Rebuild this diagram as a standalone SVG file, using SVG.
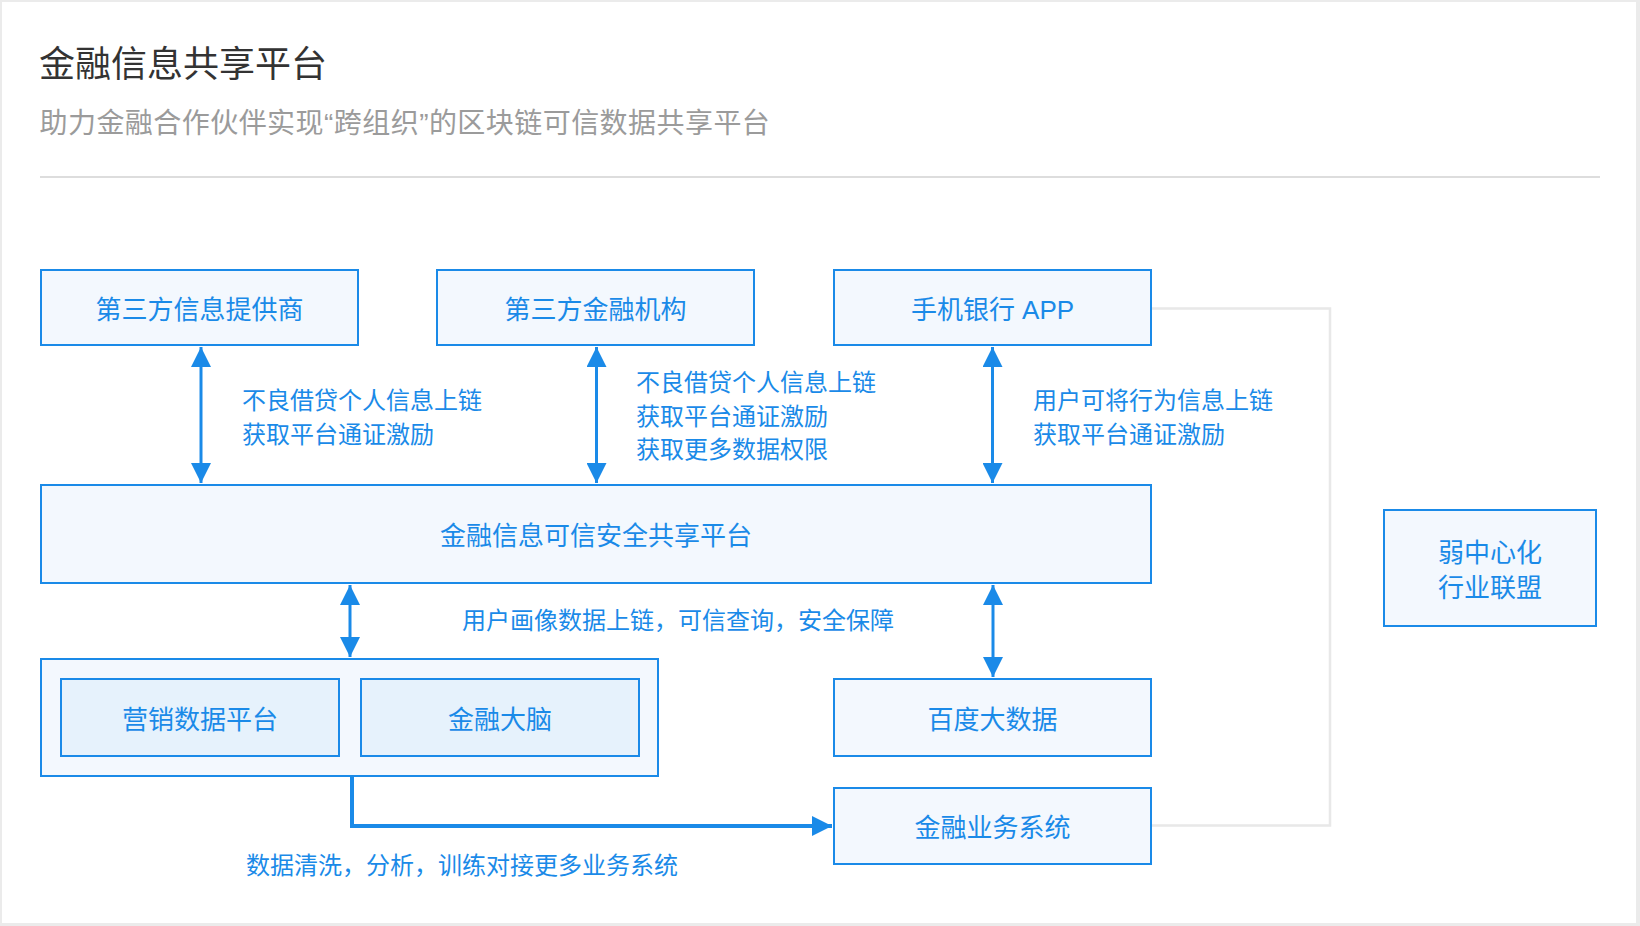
<svg xmlns="http://www.w3.org/2000/svg" width="1640" height="926" viewBox="0 0 1640 926">
<style>
text{font-family:"Liberation Sans","Noto Sans CJK SC",sans-serif}
.title{font-size:36px;fill:#333333}
.sub{font-size:28px;fill:#9b9b9b;letter-spacing:0.45px}
.box{fill:#f3f8fe;stroke:#1a8ae8;stroke-width:2}
.inner{fill:#e6f2fc;stroke:#1a8ae8;stroke-width:2}
.bl{font-size:26px;fill:#1a8ae8;text-anchor:middle}
.lab{font-size:24px;fill:#1a8ae8}
.arr{stroke:#1a8ae8;stroke-width:3;fill:none;marker-start:url(#ah);marker-end:url(#ah)}
.elbow{stroke:#1a8ae8;stroke-width:4;fill:none;marker-end:url(#ah)}
.gray{stroke:#e8e8e8;stroke-width:2.5;fill:none}
</style>
<defs>
<marker id="ah" markerUnits="userSpaceOnUse" markerWidth="20" markerHeight="20" viewBox="0 0 20 20" refX="20" refY="10" orient="auto-start-reverse">
<path d="M0,0 L20,10 L0,20 z" fill="#1a8ae8"/>
</marker>
</defs>
<rect x="0" y="0" width="1640" height="926" fill="#ebebeb"/>
<rect x="2" y="2" width="1634" height="921" fill="#ffffff"/>
<g id="header">
<text class="title" x="39" y="77">金融信息共享平台</text>
<text class="sub" x="39.5" y="133">助力金融合作伙伴实现“跨组织”的区块链可信数据共享平台</text>
<line x1="40" y1="177" x2="1600" y2="177" stroke="#dddddd" stroke-width="2"/>
</g>
<g id="connectors">
<polyline class="gray" points="1152,308.5 1330,308.5 1330,825.5 1152,825.5"/>
<line class="arr" x1="201" y1="347" x2="201" y2="483"/>
<line class="arr" x1="596.5" y1="347" x2="596.5" y2="483"/>
<line class="arr" x1="992.5" y1="347" x2="992.5" y2="483"/>
<line class="arr" x1="350" y1="585" x2="350" y2="657"/>
<line class="arr" x1="993" y1="585" x2="993" y2="677"/>
<path class="elbow" d="M352,777 V826 H832"/>
<text class="lab" x="242" y="409">不良借贷个人信息上链</text>
<text class="lab" x="242" y="443">获取平台通证激励</text>
<text class="lab" x="636" y="391">不良借贷个人信息上链</text>
<text class="lab" x="636" y="425">获取平台通证激励</text>
<text class="lab" x="636" y="458">获取更多数据权限</text>
<text class="lab" x="1033" y="409">用户可将行为信息上链</text>
<text class="lab" x="1033" y="443">获取平台通证激励</text>
<text class="lab" x="462" y="629">用户画像数据上链，可信查询，安全保障</text>
<text class="lab" x="246" y="874">数据清洗，分析，训练对接更多业务系统</text>
</g>
<g id="n-provider">
<rect class="box" x="41" y="270" width="317" height="75"/>
<text class="bl" x="199.5" y="318.5">第三方信息提供商</text>
</g>
<g id="n-institution">
<rect class="box" x="437" y="270" width="317" height="75"/>
<text class="bl" x="595.5" y="318.5">第三方金融机构</text>
</g>
<g id="n-app">
<rect class="box" x="834" y="270" width="317" height="75"/>
<text class="bl" x="992.5" y="318.5">手机银行 APP</text>
</g>
<g id="n-platform">
<rect class="box" x="41" y="485" width="1110" height="98"/>
<text class="bl" x="596" y="545">金融信息可信安全共享平台</text>
</g>
<g id="n-container">
<rect class="box" x="41" y="659" width="617" height="117"/>
</g>
<g id="n-marketing">
<rect class="inner" x="61" y="679" width="278" height="77"/>
<text class="bl" x="200" y="729">营销数据平台</text>
</g>
<g id="n-brain">
<rect class="inner" x="361" y="679" width="278" height="77"/>
<text class="bl" x="500" y="729">金融大脑</text>
</g>
<g id="n-baidu">
<rect class="box" x="834" y="679" width="317" height="77"/>
<text class="bl" x="992.5" y="729">百度大数据</text>
</g>
<g id="n-business">
<rect class="box" x="834" y="788" width="317" height="76"/>
<text class="bl" x="992.5" y="836.5">金融业务系统</text>
</g>
<g id="n-alliance">
<rect class="box" x="1384" y="510" width="212" height="116"/>
<text class="bl" x="1490" y="561.5">弱中心化</text>
<text class="bl" x="1490" y="596.5">行业联盟</text>
</g>
</svg>
